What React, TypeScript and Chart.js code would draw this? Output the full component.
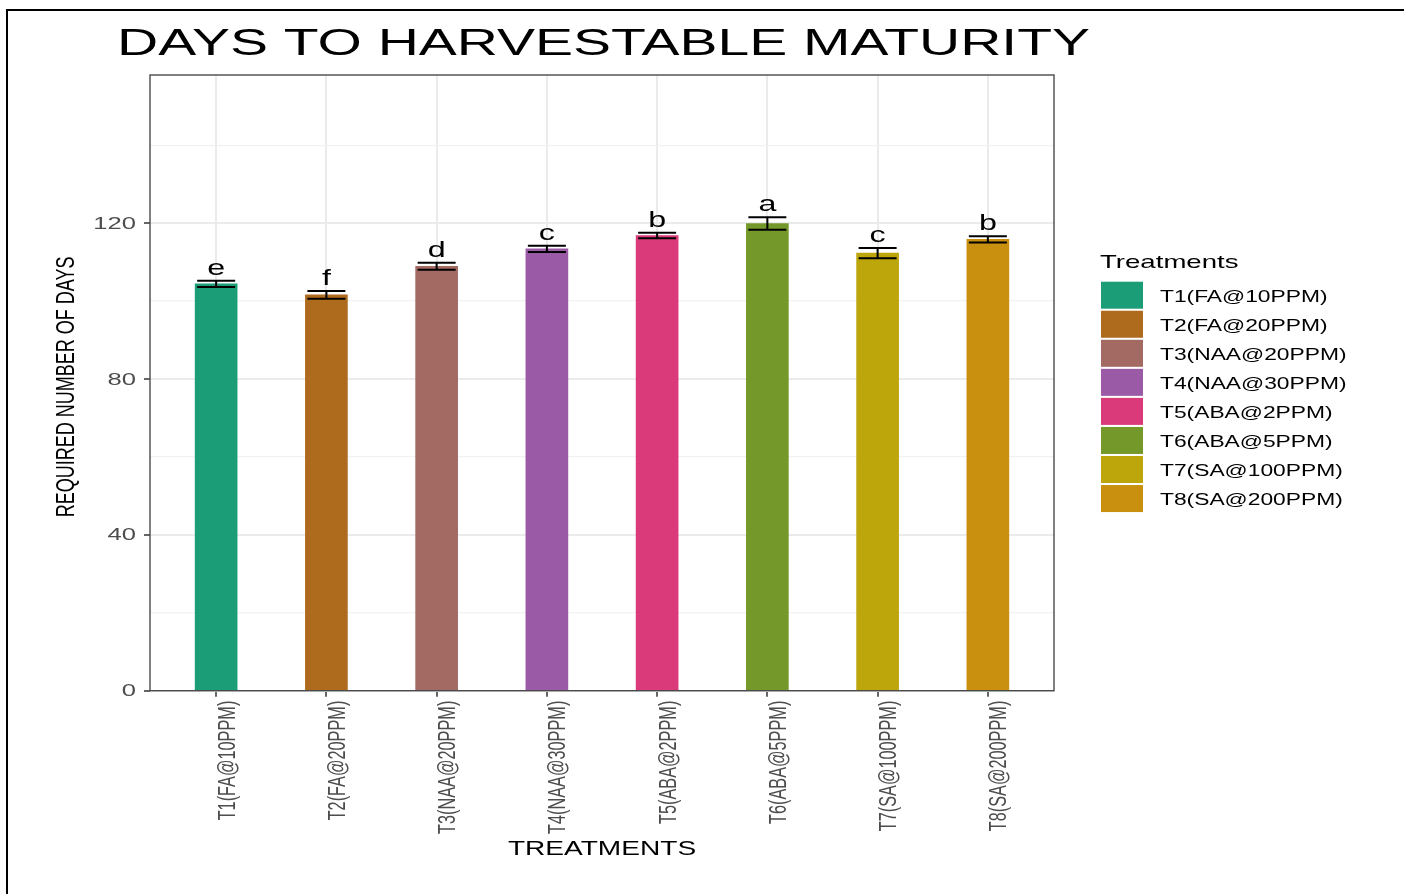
import React, { useEffect, useRef } from "react";
import { Chart, registerables } from "chart.js";

Chart.register(...registerables);

// ---- data ----
const chartTitle = "DAYS TO HARVESTABLE MATURITY";
const xTitle = "TREATMENTS";
const yTitle = "REQUIRED NUMBER OF DAYS";
const legendTitle = "Treatments";
const categories = [
  "T1(FA@10PPM)",
  "T2(FA@20PPM)",
  "T3(NAA@20PPM)",
  "T4(NAA@30PPM)",
  "T5(ABA@2PPM)",
  "T6(ABA@5PPM)",
  "T7(SA@100PPM)",
  "T8(SA@200PPM)",
];
const meanDays = [104.4, 101.6, 108.9, 113.4, 116.8, 119.9, 112.3, 115.8];
const errDays = [0.8, 1.0, 0.9, 0.8, 0.7, 1.6, 1.3, 0.8];
const groupLetters = ["e", "f", "d", "c", "b", "a", "c", "b"];
const barColors = [
  "#1B9E77",
  "#AE6B1D",
  "#A26A62",
  "#9A5AA6",
  "#DA397A",
  "#749829",
  "#BDA60B",
  "#C9900F",
];
const yMajorTicks = [0, 40, 80, 120];
const yMinorTicks = [20, 60, 100, 140];
const yMax = 158;

const FONT = "'Liberation Sans', Arial, Helvetica, sans-serif";

type TextOpts = {
  size: number;
  sx: number;
  align?: CanvasTextAlign;
  baseline?: CanvasTextBaseline;
  color?: string;
  rotate?: boolean;
  width?: number; // optional target width along text direction
};

function drawText(ctx: CanvasRenderingContext2D, text: string, x: number, y: number, o: TextOpts) {
  ctx.save();
  ctx.font = `${o.size}px ${FONT}`;
  ctx.fillStyle = o.color || "#000000";
  ctx.textAlign = o.align || "left";
  ctx.textBaseline = o.baseline || "alphabetic";
  let sx = o.sx;
  if (o.width && !o.rotate) {
    sx = o.width / ctx.measureText(text).width;
  }
  ctx.translate(x, y);
  ctx.scale(sx, 1);
  if (o.rotate) ctx.rotate(-Math.PI / 2);
  ctx.fillText(text, 0, 0);
  ctx.restore();
}

const overlayPlugin = {
  id: "ggOverlay",
  afterDatasetsDraw(chart: any) {
    const ctx: CanvasRenderingContext2D = chart.ctx;
    const xs = chart.scales.x;
    const ys = chart.scales.y;
    const area = chart.chartArea;

    // error bars and group letters
    ctx.save();
    ctx.strokeStyle = "#000000";
    ctx.lineWidth = 2;
    for (let i = 0; i < categories.length; i++) {
      const cx = xs.getPixelForValue(i + 1);
      const top = ys.getPixelForValue(meanDays[i] + errDays[i]);
      const bot = ys.getPixelForValue(meanDays[i] - errDays[i]);
      const half = 19;
      ctx.beginPath();
      ctx.moveTo(cx - half, top);
      ctx.lineTo(cx + half, top);
      ctx.moveTo(cx, top);
      ctx.lineTo(cx, bot);
      ctx.moveTo(cx - half, bot);
      ctx.lineTo(cx + half, bot);
      ctx.stroke();
      drawText(ctx, groupLetters[i], cx, top - 6, { size: 21.5, sx: 1.5, align: "center" });
    }
    ctx.restore();

    // panel border
    ctx.save();
    ctx.strokeStyle = "#4a4a4a";
    ctx.lineWidth = 1.4;
    ctx.strokeRect(area.left, area.top, area.right - area.left, area.bottom - area.top);
    ctx.restore();
  },
  afterDraw(chart: any) {
    const ctx: CanvasRenderingContext2D = chart.ctx;
    const xs = chart.scales.x;
    const ys = chart.scales.y;
    const area = chart.chartArea;

    // outer frame (top + left)
    ctx.save();
    ctx.strokeStyle = "#000000";
    ctx.lineWidth = 2;
    ctx.beginPath();
    ctx.moveTo(7, chart.height);
    ctx.lineTo(7, 10);
    ctx.lineTo(chart.width, 10);
    ctx.stroke();
    ctx.restore();

    // title
    drawText(ctx, chartTitle, 117, 55, { size: 36, sx: 1.56, width: 973 });

    // y tick labels
    for (const v of yMajorTicks) {
      drawText(ctx, String(v), area.left - 14, ys.getPixelForValue(v) + 1, {
        size: 16.5,
        sx: 1.55,
        align: "right",
        baseline: "middle",
        color: "#4D4D4D",
      });
    }

    // x tick labels (rotated)
    for (let i = 0; i < categories.length; i++) {
      const cx = xs.getPixelForValue(i + 1);
      drawText(ctx, categories[i], cx + 18.5, area.bottom + 10, {
        size: 16.3,
        sx: 1.5,
        align: "right",
        rotate: true,
        color: "#4D4D4D",
      });
    }

    // axis titles
    drawText(ctx, yTitle, 73.5, (area.top + area.bottom) / 2 + 4, {
      size: 18,
      sx: 1.42,
      align: "center",
      rotate: true,
    });
    drawText(ctx, xTitle, (area.left + area.right) / 2, 855, {
      size: 19.5,
      sx: 1.44,
      align: "center",
    });

    // legend
    drawText(ctx, legendTitle, 1100, 268, { size: 17.7, sx: 1.56 });
    for (let i = 0; i < categories.length; i++) {
      const top = 281.7 + i * 29.05;
      ctx.save();
      ctx.fillStyle = barColors[i];
      ctx.fillRect(1101, top, 42, 27);
      ctx.restore();
      drawText(ctx, categories[i], 1160, top + 20, { size: 16.3, sx: 1.4 });
    }
  },
};

export default function App() {
  const canvasRef = useRef<HTMLCanvasElement | null>(null);

  useEffect(() => {
    if (!canvasRef.current) return;
    const isMajor = (v: number) => yMajorTicks.includes(v);
    const chart = new Chart(canvasRef.current, {
      type: "bar",
      data: {
        datasets: [
          {
            label: legendTitle,
            data: meanDays.map((v, i) => ({ x: i + 1, y: v })),
            backgroundColor: barColors,
            borderWidth: 0,
            barThickness: 42,
          },
        ],
      },
      options: {
        animation: false,
        responsive: true,
        maintainAspectRatio: false,
        layout: { padding: { left: 144, right: 350, top: 75, bottom: 197.3 } },
        plugins: {
          legend: { display: false },
          title: { display: false },
          tooltip: { enabled: false },
        },
        scales: {
          x: {
            type: "linear",
            min: 0.4,
            max: 8.6,
            offset: false,
            afterBuildTicks: (s: any) => {
              s.ticks = categories.map((_, i) => ({ value: i + 1 }));
            },
            afterFit: (s: any) => {
              s.height = 6;
            },
            ticks: { display: false },
            grid: {
              offset: false,
              color: "#EBEBEB",
              lineWidth: 2,
              drawTicks: true,
              tickLength: 6,
              tickColor: "#333333",
              tickWidth: 1.5,
            },
            border: { display: false },
          },
          y: {
            type: "linear",
            min: 0,
            max: yMax,
            afterBuildTicks: (s: any) => {
              s.ticks = [...yMajorTicks, ...yMinorTicks]
                .sort((a, b) => a - b)
                .map((v) => ({ value: v }));
            },
            afterFit: (s: any) => {
              s.width = 6;
            },
            ticks: { display: false },
            grid: {
              color: (c: any) => (isMajor(c.tick?.value) ? "#EBEBEB" : "#F1F1F1"),
              lineWidth: (c: any) => (isMajor(c.tick?.value) ? 2 : 1.2),
              drawTicks: true,
              tickLength: 6,
              tickColor: (c: any) => (isMajor(c.tick?.value) ? "#333333" : "rgba(0,0,0,0)"),
              tickWidth: 1.5,
            },
            border: { display: false },
          },
        },
      } as any,
      plugins: [overlayPlugin],
    });
    return () => chart.destroy();
  }, []);

  return (
    <div style={{ position: "fixed", left: 0, top: 0, width: 1404, height: 894, background: "#ffffff" }}>
      <canvas ref={canvasRef} />
    </div>
  );
}
